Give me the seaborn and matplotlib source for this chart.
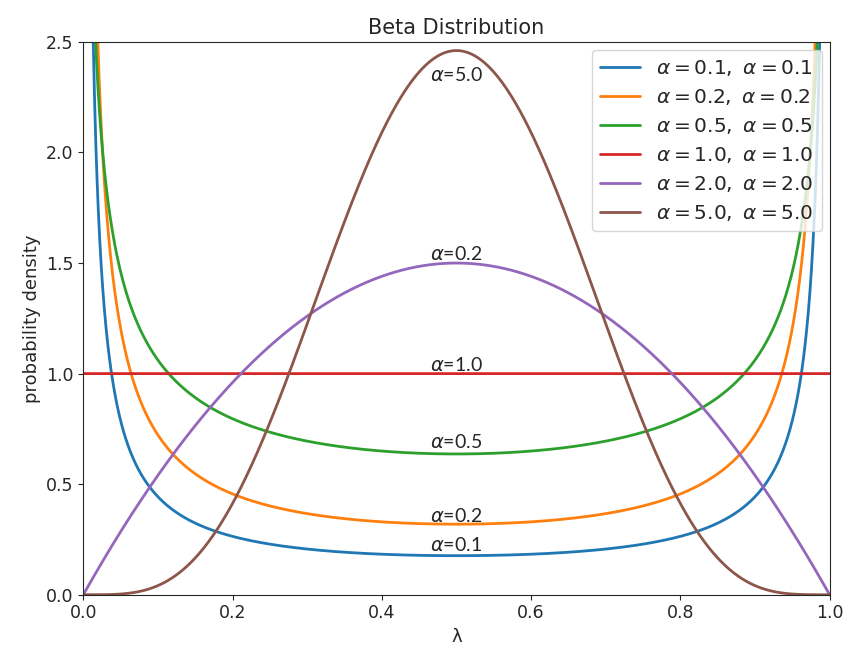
import math
import numpy as np
import pandas as pd
import matplotlib
matplotlib.use("Agg")
import matplotlib.pyplot as plt
import seaborn as sns

# ===========================
# Data
# ===========================
alphas = [0.1, 0.2, 0.5, 1.0, 2.0, 5.0]
legend_labels = [r"$\alpha = %.1f,\ \alpha = %.1f$" % (a, a) for a in alphas]
colors = ["#1f77b4", "#ff7f0e", "#2ca02c", "#d62728", "#9467bd", "#8c564b"]

# curve annotations (text, y position) as in the picture
note_texts = [r"$\alpha$=5.0", r"$\alpha$=0.2", r"$\alpha$=1.0",
              r"$\alpha$=0.5", r"$\alpha$=0.2", r"$\alpha$=0.1"]
note_y = [2.35, 1.54, 1.04, 0.69, 0.355, 0.225]


def beta_pdf(x, a, b):
    norm = math.gamma(a + b) / (math.gamma(a) * math.gamma(b))
    return norm * x ** (a - 1) * (1 - x) ** (b - 1)


x = np.linspace(1e-5, 1 - 1e-5, 3000)
frames = []
for a, lab in zip(alphas, legend_labels):
    frames.append(pd.DataFrame({"x": x, "y": beta_pdf(x, a, a), "label": lab}))
df = pd.concat(frames, ignore_index=True)

# ===========================
# Plot
# ===========================
sns.set_style("ticks")
plt.rcParams["font.family"] = ["DejaVu Sans"]
plt.rcParams["mathtext.fontset"] = "dejavusans"

fig, ax = plt.subplots(figsize=(8.5, 6.55), dpi=100)
sns.lineplot(data=df, x="x", y="y", hue="label", palette=colors,
             linewidth=2, ax=ax, sort=False, estimator=None)

for t, yy in zip(note_texts, note_y):
    ax.text(0.5, yy, t, ha="center", va="center", fontsize=14,
            family=["Lato", "DejaVu Sans"])

ax.set_xlim(0, 1)
ax.set_ylim(0, 2.5)
ax.set_xticks([0.0, 0.2, 0.4, 0.6, 0.8, 1.0])
ax.set_yticks([0.0, 0.5, 1.0, 1.5, 2.0, 2.5])
ax.tick_params(labelsize=12.5)
ax.set_xlabel("λ", fontsize=13)
ax.set_ylabel("probability density", fontsize=13)
ax.set_title("Beta Distribution", fontsize=15)
ax.legend(loc="upper right", fontsize=14.5, framealpha=0.8,
          borderaxespad=0.4, labelspacing=0.45)

plt.subplots_adjust(left=0.098, right=0.976, top=0.936, bottom=0.092)
plt.savefig("out.png", dpi=100)
